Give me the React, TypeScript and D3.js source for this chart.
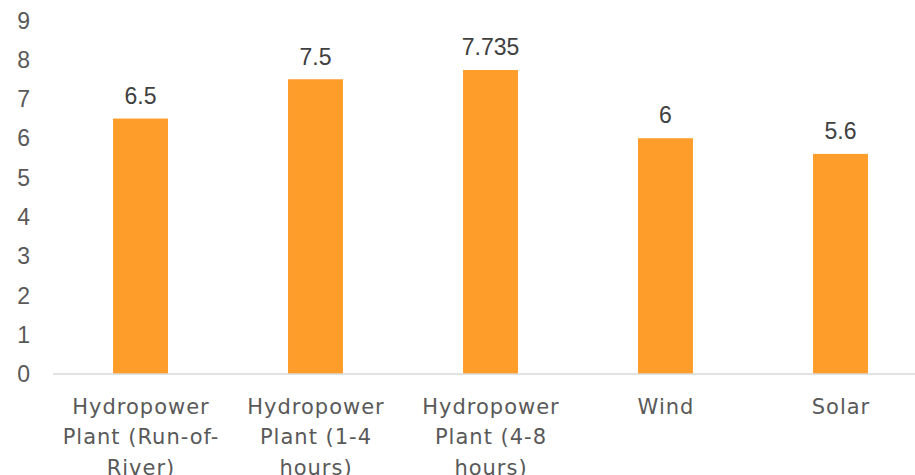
import React from "react";
import * as d3 from "d3";

const categories: string[][] = [
  ["Hydropower", "Plant (Run-of-", "River)"],
  ["Hydropower", "Plant (1-4", "hours)"],
  ["Hydropower", "Plant (4-8", "hours)"],
  ["Wind"],
  ["Solar"],
];
const values: number[] = [6.5, 7.5, 7.735, 6, 5.6];
const valueLabels: string[] = ["6.5", "7.5", "7.735", "6", "5.6"];
const yTicks: number[] = [0, 1, 2, 3, 4, 5, 6, 7, 8, 9];

const W = 915;
const H = 475;
const TEXT_FONT = "'DejaVu Sans', sans-serif";
const NUM_FONT = "'Liberation Sans', Arial, sans-serif";

export default function App() {
  const x = d3
    .scaleBand<number>()
    .domain(values.map((_, i) => i))
    .range([53, 928])
    .paddingInner(0.686)
    .paddingOuter(0.343);
  const y = d3.scaleLinear().domain([0, 9]).range([374, 20.3]);

  return (
    <svg
      width={W}
      height={H}
      style={{ position: "absolute", left: 0, top: 0, background: "#fff" }}
    >
      {yTicks.map((t) => (
        <text
          key={t}
          x={30}
          y={y(t)}
          dy="0.36em"
          textAnchor="end"
          fontFamily={NUM_FONT}
          fontSize={23}
          fill="#595959"
        >
          {t}
        </text>
      ))}
      {values.map((v, i) => (
        <g key={i}>
          <rect
            x={x(i)}
            y={y(v)}
            width={x.bandwidth()}
            height={y(0) - y(v)}
            fill="#FF9D2A"
          />
          <text
            x={(x(i) as number) + x.bandwidth() / 2}
            y={y(v) - 23}
            dy="0.36em"
            textAnchor="middle"
            fontFamily={NUM_FONT}
            fontSize={23}
            fill="#404040"
          >
            {valueLabels[i]}
          </text>
          {categories[i].map((line, j) => (
            <text
              key={j}
              x={(x(i) as number) + x.bandwidth() / 2 + 0.5}
              y={406 + j * 30.5}
              dy="0.36em"
              textAnchor="middle"
              fontFamily={TEXT_FONT}
              fontSize={21}
              letterSpacing={1}
              fill="#595959"
            >
              {line}
            </text>
          ))}
        </g>
      ))}
      <line x1={53} x2={928} y1={y(0)} y2={y(0)} stroke="#D9D9D9" strokeWidth={1.5} />
    </svg>
  );
}
